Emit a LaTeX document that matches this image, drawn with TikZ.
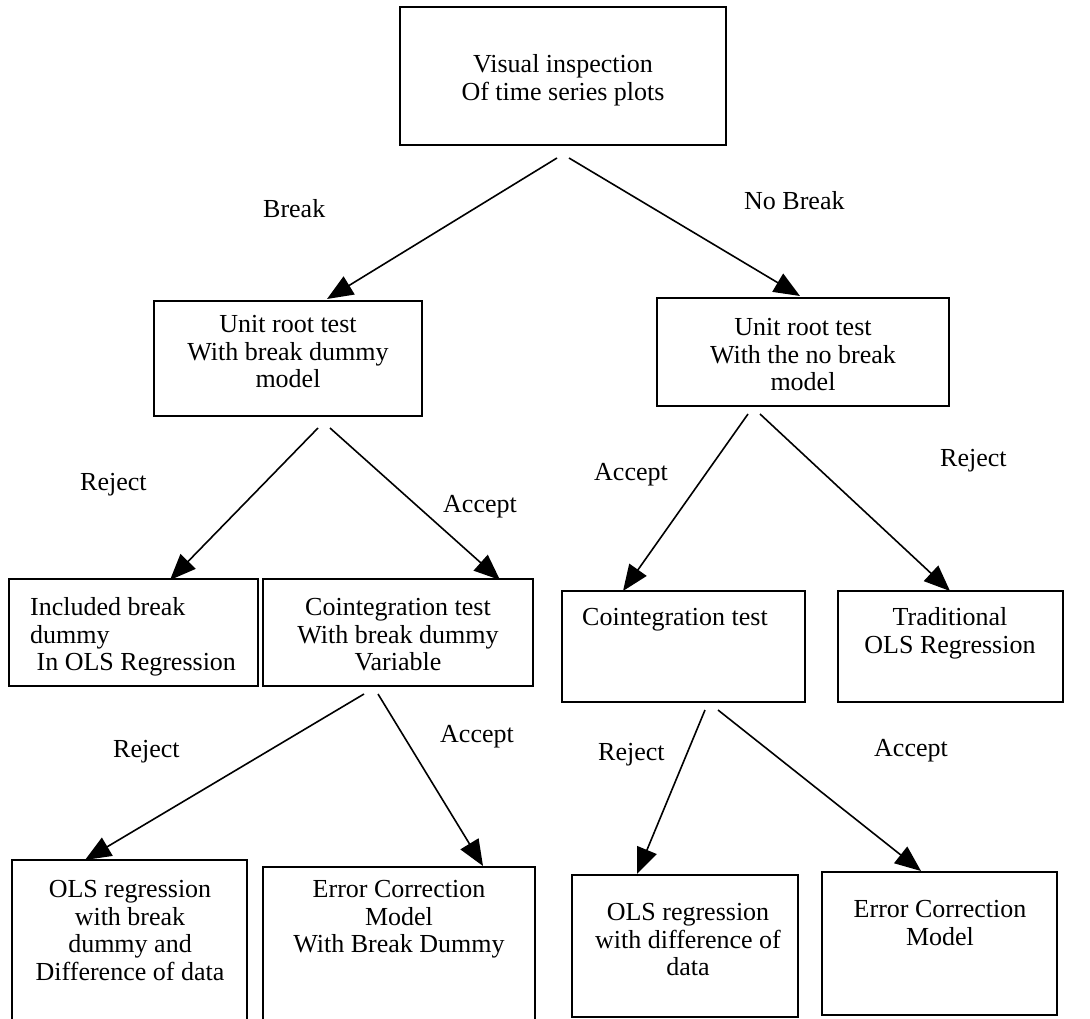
\documentclass[tikz,border=0pt]{standalone}
\usepackage{fontspec}
\setmainfont{Liberation Serif}
\usetikzlibrary{arrows.meta}
\tikzset{
  box/.style={draw, line width=2pt},
  txt/.style={inner sep=0pt, anchor=north, align=center, font=\fontsize{26}{27.5}\selectfont},
  txtl/.style={inner sep=0pt, anchor=north west, align=left, font=\fontsize{26}{27.5}\selectfont},
  lbl/.style={inner sep=0pt, anchor=base west, font=\fontsize{26}{27.5}\selectfont},
  arr/.style={line width=1.6pt, -{Triangle[length=26pt,width=21pt]}}
}
\begin{document}
\begin{tikzpicture}[x=1pt,y=-1pt]
\useasboundingbox (0,0) rectangle (1090,1019);
% boxes
\draw[box] (400,7) rectangle (726,145);
\draw[box] (154,301) rectangle (422,416);
\draw[box] (657,298) rectangle (949,406);
\draw[box] (9,579) rectangle (258,686);
\draw[box] (263,579) rectangle (533,686);
\draw[box] (562,591) rectangle (805,702);
\draw[box] (838,591) rectangle (1063,702);
\draw[box] (12,860) rectangle (247,1024);
\draw[box] (263,867) rectangle (535,1024);
\draw[box] (572,875) rectangle (798,1017);
\draw[box] (822,872) rectangle (1057,1015);
% texts
\node[txt] (tA) at (563,72-18.9) {\strut Visual inspection\\Of time series plots};
\node[txt] (tB) at (288,332-18.9) {\strut Unit root test\\With break dummy\\model};
\node[txt] (tC) at (803,335-18.9) {\strut Unit root test\\With the no break\\model};
\node[txtl] (tD) at (30,615-18.9) {\strut Included break\\dummy\\\ In OLS Regression};
\node[txt] (tE) at (398,615-18.9) {\strut Cointegration test\\With break dummy\\Variable};
\node[txtl] (tF) at (582,625-18.9) {\strut Cointegration test};
\node[txt] (tG) at (950,625-18.9) {\strut Traditional\\OLS Regression};
\node[txt] (tH) at (130,897-18.9) {\strut OLS regression\\with break\\dummy and\\Difference of data};
\node[txt] (tI) at (399,897-18.9) {\strut Error Correction\\Model\\With Break Dummy};
\node[txt] (tJ) at (688,920-18.9) {\strut OLS regression\\with difference of\\data};
\node[txt] (tK) at (940,917-18.9) {\strut Error Correction\\Model};
% arrow end points
\coordinate (a1s) at (557,158); \coordinate (a1e) at (327,299);
\coordinate (a2s) at (569,158); \coordinate (a2e) at (800,296);
\coordinate (a3s) at (318,428); \coordinate (a3e) at (170,580);
\coordinate (a4s) at (330,428); \coordinate (a4e) at (500,580);
\coordinate (a5s) at (748,414); \coordinate (a5e) at (623,591);
\coordinate (a6s) at (760,414); \coordinate (a6e) at (950,591);
\coordinate (a7s) at (364,694); \coordinate (a7e) at (85,860);
\coordinate (a8s) at (378,694); \coordinate (a8e) at (483,866);
\coordinate (a9s) at (705,710); \coordinate (a9e) at (637,874);
\coordinate (a10s) at (718,710); \coordinate (a10e) at (921,871);
\draw[arr] (a1s) -- (a1e);
\draw[arr] (a2s) -- (a2e);
\draw[arr] (a3s) -- (a3e);
\draw[arr] (a4s) -- (a4e);
\draw[arr] (a5s) -- (a5e);
\draw[arr] (a6s) -- (a6e);
\draw[arr] (a7s) -- (a7e);
\draw[arr] (a8s) -- (a8e);
\draw[arr] (a9s) -- (a9e);
\draw[arr] (a10s) -- (a10e);
% labels
\node[lbl] (l1) at (263,218) {Break};
\node[lbl] (l2) at (744,210) {No Break};
\node[lbl] (l3) at (80,490) {Reject};
\node[lbl] (l4) at (443,512) {Accept};
\node[lbl] (l5) at (594,480) {Accept};
\node[lbl] (l6) at (940,466) {Reject};
\node[lbl] (l7) at (113,757) {Reject};
\node[lbl] (l8) at (440,742) {Accept};
\node[lbl] (l9) at (598,760) {Reject};
\node[lbl] (l10) at (874,756) {Accept};
\end{tikzpicture}
\end{document}
